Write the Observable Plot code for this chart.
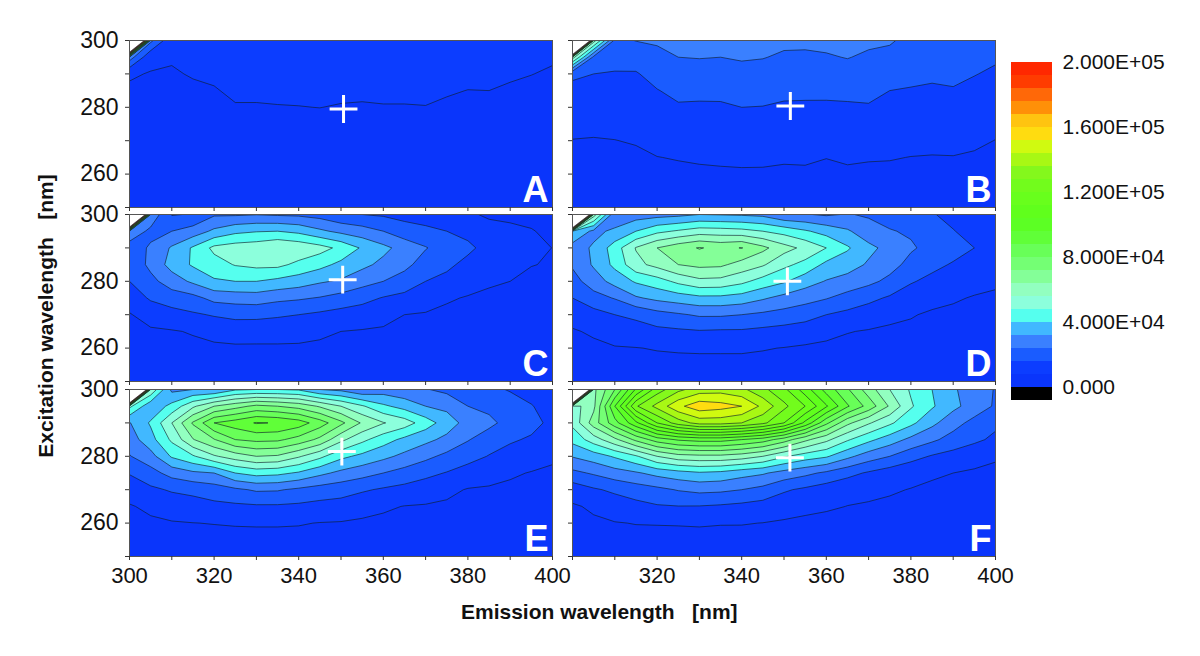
<!DOCTYPE html>
<html>
<head>
<meta charset="utf-8">
<script src="https://cdn.jsdelivr.net/npm/d3@7"></script>
<script src="https://cdn.jsdelivr.net/npm/@observablehq/plot@0.6"></script>
<style>
  html, body { margin: 0; background: #fff; }
  #page { position: relative; width: 1200px; height: 656px; overflow: hidden; font-family: "Liberation Sans", Arial, sans-serif; }
  #page svg { position: absolute; overflow: visible; }
  .title { position: absolute; font-weight: bold; font-size: 21px; white-space: pre; color: #111; }
</style>
</head>
<body>
<div id="page"></div>
<script>
// Grid axes of the excitation-emission maps (nm)
const emission = [300,305,310,315,320,325,330,335,340,345,350,355,360,365,370,375,380,385,390,395,400];
const excitation = [300,295,290,285,280,275,270,265,260,255,250];

// Intensities in thousands, one inner list per emission wavelength, excitation 300 down to 250
const panelA = [
 [600,28,8.6,7.2,6.5,6,5.5,5,4.5,4,3.5],
 [26,9.5,7.7,7,6.5,6,5.5,5,4.5,4,3.5],
 [9.5,8.4,7.6,7,6.5,6,5.5,5,4.5,4,3.5],
 [10,9.5,8.3,7.3,6.5,6,5.5,5,4.5,4,3.5],
 [10.5,10,9,7.6,6.8,6,5.5,5,4.5,4,3.5],
 [11,10.5,10,9,7.6,6.5,5.8,5.2,4.6,4,3.5],
 [11,10.5,10,9,7.6,6.5,5.8,5.2,4.6,4,3.5],
 [11,11,10,9,7.8,6.5,5.8,5.2,4.6,4,3.5],
 [11,11,10,9,7.9,6.6,5.8,5.2,4.6,4,3.5],
 [11,11,10.5,9,8.05,6.6,5.8,5.2,4.6,4,3.5],
 [11,11,10,9,7.7,6.5,5.8,5.2,4.6,4,3.5],
 [11,11,10,8.8,7.6,6.5,5.8,5.2,4.6,4,3.5],
 [11,10.5,10,8.8,7.8,6.5,5.8,5.2,4.6,4,3.5],
 [10.5,10.5,9.5,8.8,7.8,6.5,5.8,5.2,4.6,4,3.5],
 [10.5,10,9.5,8.8,7.9,6.5,5.8,5.2,4.6,4,3.5],
 [10,10,9,8.3,7.5,6.4,5.8,5.2,4.6,4,3.5],
 [10,9.5,8.9,7.95,7.2,6.3,5.7,5.1,4.5,4,3.5],
 [10,9.5,8.8,8,7.2,6.3,5.7,5.1,4.5,4,3.5],
 [10,9,8.4,7.6,7,6.3,5.7,5.1,4.5,4,3.5],
 [9.5,8.8,8.05,7.4,6.8,6.2,5.6,5,4.5,4,3.5],
 [9,8.3,7.7,7.2,6.6,6.1,5.5,5,4.5,4,3.5]
];
const panelB = [
 [900,60,17,14.5,12.3,10,7.8,6.8,6,5,4],
 [60,22,16,13.7,11.5,9.2,7.7,6.8,6,5,4],
 [22,20,15.2,13,11.2,9.5,7.9,6.8,6,5,4],
 [24.2,19.3,15.4,13.6,12,10.1,8.4,7,6,5,4],
 [25,21.8,18.7,15.7,13.7,11.7,9.7,7.9,6.7,5.3,4.2],
 [26.5,24,21,17.8,15.2,12.8,10.5,8.3,6.8,5.5,4.3],
 [26.5,24.3,21,17.7,15,13,10.9,8.7,7,5.6,4.3],
 [26.5,24,20.8,17.7,15.1,13,11,8.9,7.2,5.6,4.3],
 [26.5,24.7,21.7,18.9,16,13.8,11.7,9.1,7.3,5.7,4.3],
 [26.5,24.3,21.2,18.6,15.8,13.5,11.3,9,7.3,5.7,4.3],
 [25.5,23,20.5,17.5,15.1,12.9,10.8,8.7,7,5.6,4.3],
 [25.5,22.8,20.2,17.4,15,13,11,8.8,7.1,5.6,4.3],
 [26,23.3,20.5,17.5,14.9,12.6,10.3,8.1,6.8,5.5,4.3],
 [26.5,24.3,21,17.7,15.1,13,11,8.8,7,5.6,4.3],
 [25.5,22.8,20,17.9,15.4,13,10.8,8.4,6.9,5.5,4.3],
 [24.8,22,19.1,16,14.1,12.2,10.2,8.3,6.8,5.5,4.3],
 [22,20,17.5,15.6,13.6,11.7,9.7,7.9,6.6,5.3,4.2],
 [21.5,19,17,15.2,13.4,11.5,9.7,7.7,6.5,5.2,4.1],
 [21,19,17.3,15.6,13.7,11.7,9.8,7.8,6.5,5.2,4.1],
 [20,18.5,16.3,14,12.4,10.6,8.9,7.4,6.2,5,4],
 [19,17,14.8,13,11,9.4,7.9,6.8,6,4.8,4]
];
const panelC = [
 [700,30,20,18,16,11.5,7.5,6,5,4,3],
 [30,22,25,26,21.7,17,11,7,5.5,4.5,3.5],
 [15.5,24,33,35,28,20,13,7.5,6,4.5,3.5],
 [16.5,27.5,41,41,33.5,21.5,15,8.5,6.5,5,3.5],
 [23,33.6,50,44.7,39,26.5,16.6,10.7,6.5,5,4],
 [23,38,52,48.5,40,27.4,18,11.2,7,5.5,4],
 [23.7,39.5,53,50,40,28,18,11,7,5.5,4],
 [23,40,56,50,38,26,17,11,7,5.5,4],
 [22.5,38,54,46,36,25,16,10.5,7,5.5,4],
 [21,33.5,51,42.5,33,23.5,14.5,9.5,6.5,5,4],
 [17.5,30,46,38,31,21,13,8,6,4.5,3.5],
 [16,27.5,39,34,27,18.5,12,7.5,5.5,4.5,3.5],
 [15,24,34,30,24,15.5,10.5,7,5,4,3.5],
 [13.5,19.5,29,26.5,20,14,8,6,5,4,3],
 [12,18,24.5,20,16,11,7.5,5.5,4.5,3.5,3],
 [10.5,16,20,17.5,14,8.8,6.5,5,4,3.5,3],
 [9,14,17.5,14,11,7.5,5.5,4.5,4,3,2.5],
 [7,10.5,13.5,11.5,8.8,6.8,5,4.5,4,3,2.5],
 [6.5,9.5,12,10,8,6,5,4,3.5,3,2.5],
 [5.5,8.5,10,8.2,6.5,5.5,4.5,4,3.5,3,2.5],
 [4.5,6,7.9,7.5,6,5,4.5,4,3.5,3,2.5]
];
const panelD = [
 [800,40,28.5,25,21,16,11,7.3,6,5,4],
 [60,30,33,33,28,21,13,9,6.5,5,4],
 [26,33.5,44,42,35,24.5,16,11.5,7.5,5.5,4],
 [28,40,56.5,53.7,41,31,17.5,13,7.8,5.8,4.5],
 [29,46,64,58.5,44.5,34,21,14,8.4,6,4.5],
 [30,49,69,64,50,36,23,14.7,8.8,6,4.5],
 [32,52,72.5,66,54,38,25,15.4,9,6,4.5],
 [31.5,51.5,70,65.5,53.5,38,25,15,9,6,4.5],
 [31,50.5,72.3,61,50,36.5,24,15,9,6,4.5],
 [30,48,66,57,44.8,33,22.5,14,8.4,6,4.5],
 [25,45,59,50,41,29.5,21,13,7.8,5.5,4.5],
 [24.5,41,54,45.5,35.5,27,19,12,7,5.5,4],
 [23,37,48,38,31.5,24.5,16,10,6.5,5,4],
 [24.5,33,41,35.5,29,21,14,8.3,6,5,4],
 [23,27.5,34,31,26,18,12,7.5,6,5,4],
 [21,24.5,29.5,27,22,15,9.5,7,5.5,4.5,3.5],
 [19,23,25,21.5,16.7,12,8.5,6.5,5,4.5,3.5],
 [16.5,20,21.5,18,14,10.3,7,6,5,4,3.5],
 [14,16.3,19,15.3,12.5,8.8,6.5,5.5,5,4,3.5],
 [12,13.5,16,13.2,10.5,7.5,6,5.5,4.5,3.5,3],
 [10,11,12.5,11,9,7,6,5,4.5,3.5,3]
];
const panelE = [
 [800,50,31.5,28,23.5,16.5,11.5,7.4,6,5,4],
 [55,34,41,37,29,21,14.5,9.5,6.8,5,4],
 [30,42.5,56,49.5,41,27,16.8,11.5,7.5,5.5,4],
 [32,54.5,73,63.5,47,30.5,18,12.7,7.9,5.7,4.2],
 [32,64,88,71.5,55,32,20,14,8.2,5.8,4.3],
 [39,69,92,80,60,40,22.5,14.5,8.5,5.9,4.3],
 [40,74,96.6,82,64,43,25,15,8.6,6,4.3],
 [40,72,95.5,81.5,63,42,24.7,15,8.6,6,4.3],
 [39,69,92,77,57,39,22.5,14.5,8.4,6,4.3],
 [32,63,84,70,50,34,20.5,13.5,7.8,5.7,4.2],
 [30,56,74,58,42,30,19,13,7.5,5.5,4.1],
 [25,49,63,50,38,27,17,10.5,7,5.2,4],
 [28,41.5,56.5,43.5,34,24,15,9,6.5,5,4],
 [26,37,52,38,30,21,13.5,7.8,6,4.8,3.8],
 [24.5,32,44,34,26,18,12,7.4,5.8,4.6,3.7],
 [22,30,36,30,22,15.6,9.5,7,5.5,4.5,3.6],
 [19.5,24,29,24.5,19,12.5,7.6,6.2,5.2,4.2,3.5],
 [17.5,22,26,20,15.6,10.4,7.3,6,5,4,3.3],
 [15.5,19,21,17,13,8.8,6.8,5.7,4.8,3.8,3.2],
 [12.5,16.5,18.5,15,11,7.7,6.2,5.4,4.5,3.6,3],
 [10,12,14,12,9,7,5.8,5,4.2,3.4,3]
];
// Panel F listed by excitation row (300 down to 250), each row along emission 300..400
const panelFRows = [
 [800,62,80,105,124,134,140,141,138,130,122,108,93,81,68,56,47,40,33,28,23.5],
 [52,62,96,127,138.5,150,157,155,152,142,130,120,105,89,77,63,49,41,34,28.5,23],
 [50,68,85,102,120,132,139,139,136,130,120,102,82,66,57,49.5,42,34,27,21.5,17.5],
 [42.5,52,62,74,84,89,91,91,88,84,76,66,58,49,42,36,30,25.5,21,17.5,14.5],
 [32.5,36,41,47,56,61,62,62,60,56,49,44,41,34,28,24,19,15.3,13,11,8.8],
 [22,25,28.5,31,34.5,37,39,38,35,33,29,26,22.5,18.5,15,12,10,8.8,8,7,6.5],
 [11.5,15,17.5,20,22,24.5,26,25.5,24,21.5,17,14.5,12,10,9.5,8.6,7.8,7,6.5,6,5.5],
 [7.2,9,11.5,13.5,15.3,15.8,15.7,15,14,12.8,11,9.8,8.9,7.9,7.4,7,6.6,6.2,5.7,5.3,5],
 [6,7,7.7,8.2,8.3,8.4,8.6,8.3,8.3,7.9,7.2,6.5,6,5.6,5.3,5,4.7,4.4,4.2,4,3.8],
 [5,5.5,5.8,6,6,6,6,6,5.8,5.6,5.3,5,4.6,4.3,4,3.8,3.5,3.3,3,2.8,2.6],
 [4,4.2,4.3,4.4,4.4,4.4,4.4,4.4,4.3,4.2,4,3.8,3.6,3.4,3.2,3,2.9,2.7,2.5,2.3,2.2]
];
const panelF = d3.transpose(panelFRows);

// Colour legend: contour levels every 8000, with one band below zero
const levels = [0,8000,16000,24000,32000,40000,48000,56000,64000,72000,80000,88000,96000,104000,112000,120000,128000,136000,144000,152000,160000,168000,176000,184000,192000,200000];
const bandColors = ["#000000","#0a35fb","#0c3dff","#1a5cff","#3a80ff","#41b8ff","#55ffee","#8cffdc","#92ffc0","#84ff98","#74ff74","#68ff58","#60ff38","#5cff24","#60ff1c","#68ff1c","#72fc1c","#84f81c","#a8f814","#d0fa10","#ffdc10","#ffc410","#ff9008","#ff6808","#ff3c00","#ff2800","#ffffff"];
const legendTicks = [0,40000,80000,120000,160000,200000];
const legendLabels = ["0.000","4.000E+04","8.000E+04","1.200E+05","1.600E+05","2.000E+05"];

const emTicks = [300,310,320,330,340,350,360,370,380,390,400];
const exTicks = [250,260,270,280,290,300];
const exLabels = [260,280,300];

const letters = ["A","B","C","D","E","F"];
const grids = [panelA,panelB,panelC,panelD,panelE,panelF];
const crossEm = [350.6,351.5,350.4,350.8,350.2,351.4];
const crossEx = [279.5,280.4,280.5,280,281.4,279.6];
const emLabelSets = [[],[],[],[],[300,320,340,360,380,400],[320,340,360,380,400]];

const page = document.getElementById("page");
const colLeft = [129,572];
const rowTop = [40,214,389];
const panelW = 423, panelH = 167;
const FONT = '"Liberation Sans", Arial, sans-serif';

const colorScale = {type:"threshold", domain: levels, range: bandColors};

grids.forEach((grid, i) => {
  const col = i % 2, row = Math.floor(i/2);
  const ml = 64, mr = 10, mt = 14, mb = row === 2 ? 44 : 8;
  const flat = [];
  excitation.forEach((_, r) => emission.forEach((_, c) => flat.push(grid[c][r] * 1000)));
  const svg = Plot.plot({
    width: panelW + ml + mr, height: panelH + mt + mb,
    marginLeft: ml, marginRight: mr, marginTop: mt, marginBottom: mb,
    style: {background:"transparent", fontFamily: FONT, overflow:"visible"},
    x: {domain:[300,400]}, y: {domain:[250,300]},
    color: colorScale,
    marks: [
      Plot.frame({fill:"#0a35fb"}),
      Plot.contour(flat, {
        width: emission.length, height: excitation.length,
        x1: 297.5, x2: 402.5, y1: 302.5, y2: 247.5,
        fill: Plot.identity, thresholds: levels,
        stroke:"#10202a", strokeWidth:0.8, strokeOpacity:0.8, clip:true
      }),
      Plot.frame({stroke:"#555", strokeWidth:1}),
      Plot.axisX({ticks: emTicks, tickSize:4, tickPadding:7, label:null, stroke:"#333",
        tickFormat: d => emLabelSets[i].includes(d) ? String(d) : "", fontSize:22, fill:"#111"}),
      Plot.axisY({ticks: exTicks, tickSize:4, tickPadding:7, label:null, stroke:"#333",
        tickFormat: d => (col === 0 && exLabels.includes(d)) ? String(d) : "", fontSize:23, fill:"#111"}),
      Plot.dot([0], {x: () => crossEm[i], y: () => crossEx[i], symbol:"plus", r:9, stroke:"#fff", strokeWidth:3}),
      Plot.text([letters[i]], {frameAnchor:"bottom-right", dx:-4, dy:-6, fontSize:36, fontWeight:"bold", fill:"#fff"})
    ]
  });
  svg.style.left = (colLeft[col] - ml) + "px";
  svg.style.top = (rowTop[row] - mt) + "px";
  page.appendChild(svg);
});

// Colour bar
const bands = [-8000, ...levels];
const barRows = d3.pairs(bands).map(([lo, hi]) => ({lo, hi}));
const bar = Plot.plot({
  width: 190, height: 360, marginLeft: 11, marginRight: 138, marginTop: 12, marginBottom: 10,
  style: {background:"transparent", fontFamily: FONT, overflow:"visible"},
  x: {domain:[0,1], axis:null},
  y: {domain:[-8000,200000]},
  color: colorScale,
  marks: [
    Plot.rect(barRows, {x1:0, x2:1, y1:"lo", y2:"hi", fill:"lo"}),
    Plot.axisY({anchor:"right", ticks: legendTicks, tickSize:0, tickPadding:10, label:null,
      tickFormat: d => legendLabels[legendTicks.indexOf(d)], fontSize:21, fill:"#111"})
  ]
});
bar.style.left = "1000px";
bar.style.top = "50px";
page.appendChild(bar);

// Axis titles
const xTitle = document.createElement("div");
xTitle.className = "title";
xTitle.textContent = "Emission wavelength   [nm]";
xTitle.style.left = "461px"; xTitle.style.top = "600px";
page.appendChild(xTitle);
const yTitle = document.createElement("div");
yTitle.className = "title";
yTitle.textContent = "Excitation wavelength   [nm]";
yTitle.style.left = "46px"; yTitle.style.top = "316px";
yTitle.style.transform = "translate(-50%,-50%) rotate(-90deg)";
page.appendChild(yTitle);
</script>
</body>
</html>
